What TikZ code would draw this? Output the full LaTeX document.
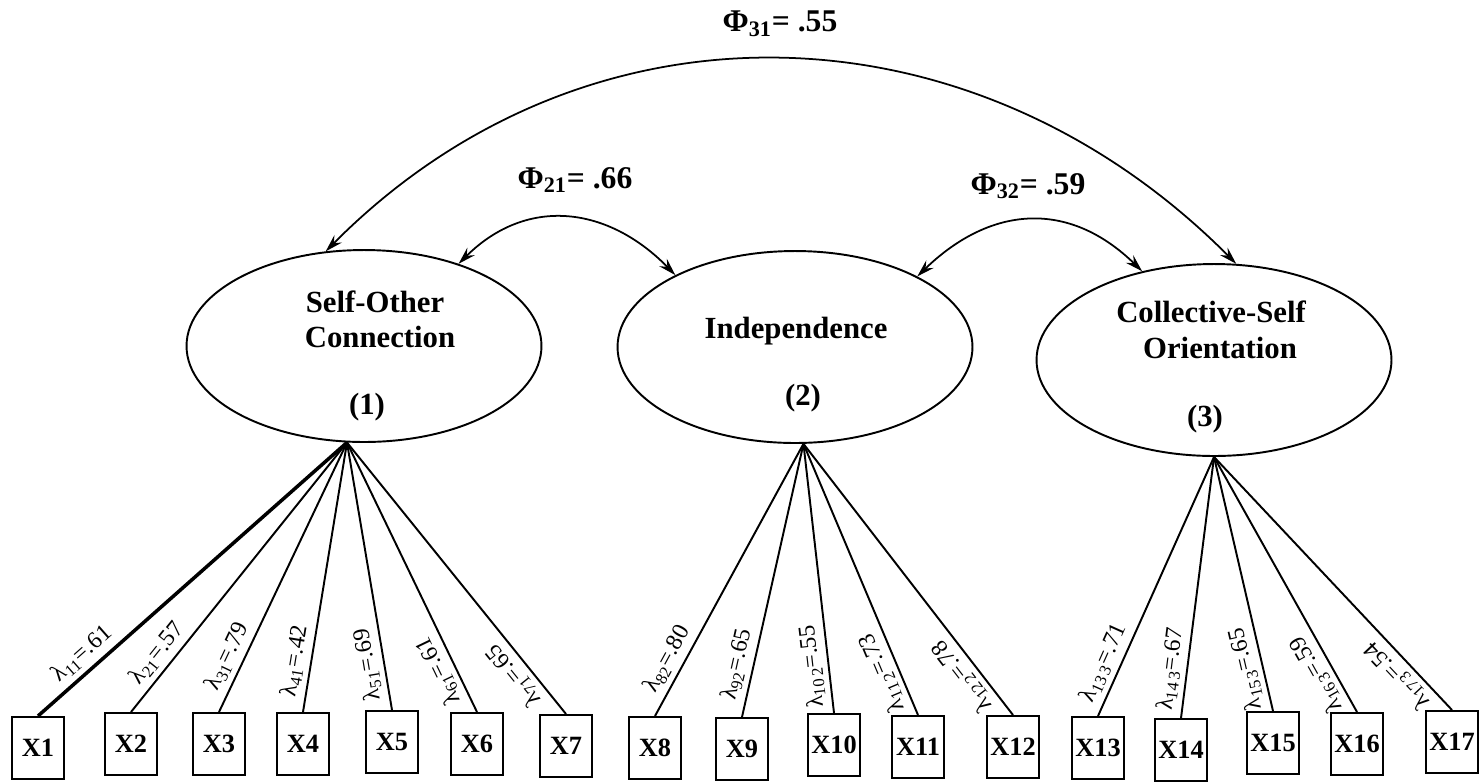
\documentclass[tikz,border=0pt]{standalone}
\usepackage{fontspec}
\setmainfont{Liberation Serif}
\usetikzlibrary{arrows.meta,shapes.geometric}
\begin{document}
\begin{tikzpicture}[x=0.02cm, y=-0.02cm,
  >={Stealth[length=10pt, width=6pt, inset=3.5pt]},
  latent/.style={draw, ellipse, line width=1.1pt, minimum width=7.1cm, minimum height=3.84cm, inner sep=0pt},
  lvtext/.style={anchor=base, inner sep=0pt, font=\bfseries\fontsize{17.5}{20}\selectfont},
  manifest/.style={draw, anchor=north, line width=0.9pt, minimum width=1.04cm, minimum height=1.24cm, inner sep=0pt, font=\bfseries\fontsize{15}{15}\selectfont},
  phi/.style={inner sep=0pt, font=\bfseries\fontsize{18}{18}\selectfont},
  loading/.style={line width=1.1pt},
  lam/.style={pos=0.18, sloped, allow upside down, above=2pt, inner sep=1pt, font=\fontsize{13.5}{13.5}\selectfont},
  corr/.style={<->, line width=1pt}]
  \useasboundingbox[fill=white] (0,0) rectangle (1479,782);

  % factors
  \node[latent] (e1) at (364,346) {};
  \node[latent] (e2) at (795,347) {};
  \node[latent] (e3) at (1214,360) {};
  \node[lvtext] (e1a) at (375,312) {Self-Other};
  \node[lvtext] (e1b) at (380,347) {Connection};
  \node[lvtext] (e1c) at (367,414) {(1)};
  \node[lvtext] (e2a) at (796,338) {Independence};
  \node[lvtext] (e2c) at (803,405) {(2)};
  \node[lvtext] (e3a) at (1211,322) {Collective-Self};
  \node[lvtext] (e3b) at (1220,358) {Orientation};
  \node[lvtext] (e3c) at (1205,426) {(3)};

  % items
  \node[manifest] (x1) at (38,716) {X1};
  \node[manifest] (x2) at (131,712) {X2};
  \node[manifest] (x3) at (219,712) {X3};
  \node[manifest] (x4) at (303,712) {X4};
  \node[manifest] (x5) at (392,710) {X5};
  \node[manifest] (x6) at (477,712) {X6};
  \node[manifest] (x7) at (566,714) {X7};
  \node[manifest] (x8) at (655,716) {X8};
  \node[manifest] (x9) at (742,717) {X9};
  \node[manifest] (x10) at (834,713) {X10};
  \node[manifest] (x11) at (918,715) {X11};
  \node[manifest] (x12) at (1013,715) {X12};
  \node[manifest] (x13) at (1098,716) {X13};
  \node[manifest] (x14) at (1181,718) {X14};
  \node[manifest] (x15) at (1273,711) {X15};
  \node[manifest] (x16) at (1357,712) {X16};
  \node[manifest] (x17) at (1452,710) {X17};

  % correlations
  \draw[corr] (e1.112) .. controls (588,-13) and (974,0) .. (e3.77);
  \draw[corr] (e1.41) .. controls (528,195) and (609,207) .. (e2.149);
  \draw[corr] (e2.30) .. controls (990,206) and (1068,199) .. (e3.129);
  \node[phi] (phi31) at (780,24) {Φ\textsubscript{31}= .55};
  \node[phi] (phi21) at (575,180) {Φ\textsubscript{21}= .66};
  \node[phi] (phi32) at (1028,186) {Φ\textsubscript{32}= .59};

  % loadings
  \begin{scope}[loading]
    \draw[line width=2pt] (x1.north) to node[lam] {λ\textsubscript{11}=.61} (e1.260);
    \draw (x2.north) to node[lam] {λ\textsubscript{21}=.57} (e1.260);
    \draw (x3.north) to node[lam] {λ\textsubscript{31}=.79} (e1.260);
    \draw (x4.north) to node[lam] {λ\textsubscript{41}=.42} (e1.260);
    \draw (x5.north) to node[lam] {λ\textsubscript{51}=.69} (e1.260);
    \draw (x6.north) to node[lam] {λ\textsubscript{61}=.61} (e1.260);
    \draw (x7.north) to node[lam] {λ\textsubscript{71}=.65} (e1.260);
    \draw (x8.north) to node[lam] {λ\textsubscript{82}=.80} (e2.275);
    \draw (x9.north) to node[lam] {λ\textsubscript{92}=.65} (e2.275);
    \draw (x10.north) to node[lam] {λ\textsubscript{10\,2}=.55} (e2.275);
    \draw (x11.north) to node[lam] {λ\textsubscript{11\,2}=.73} (e2.275);
    \draw (x12.north) to node[lam] {λ\textsubscript{12\,2}=.78} (e2.275);
    \draw (x13.north) to node[lam] {λ\textsubscript{13\,3}=.71} (e3.south);
    \draw (x14.north) to node[lam] {λ\textsubscript{14\,3}=.67} (e3.south);
    \draw (x15.north) to node[lam] {λ\textsubscript{15\,3}=.65} (e3.south);
    \draw (x16.north) to node[lam] {λ\textsubscript{16\,3}=.59} (e3.south);
    \draw (x17.north) to node[lam] {λ\textsubscript{17\,3}=.54} (e3.south);
  \end{scope}
\end{tikzpicture}
\end{document}
